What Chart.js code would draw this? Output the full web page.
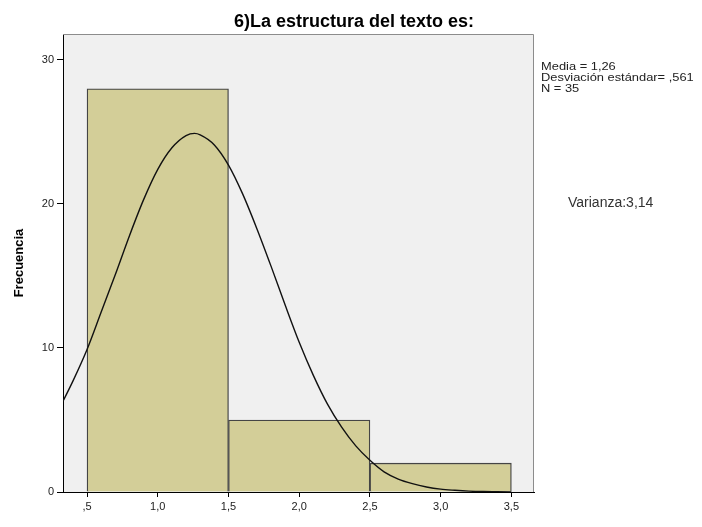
<!DOCTYPE html>
<html>
<head>
<meta charset="utf-8">
<script src="https://cdn.jsdelivr.net/npm/chart.js@4/dist/chart.umd.min.js"></script>
<style>
  html, body { margin: 0; padding: 0; background: #fff; }
  #wrap { width: 702px; height: 527px; }
</style>
</head>
<body>
<div id="wrap"><canvas id="hist"></canvas></div>
<script>
const binCenters = [1, 2, 3];
const binCounts = [28, 5, 2];
const binEdges = [0.5, 1.5, 2.5, 3.5];
const curveX = [0.33, 0.4, 0.5, 0.6, 0.7, 0.8, 0.9, 1.0, 1.1, 1.2, 1.26, 1.3, 1.4, 1.5, 1.6, 1.7, 1.8,
  1.9, 2.0, 2.1, 2.2, 2.3, 2.4, 2.5, 2.6, 2.7, 2.8, 2.9, 3.0, 3.1, 3.2, 3.3, 3.4, 3.5];
const curveY = [6.3, 7.7, 9.9, 12.5, 15.1, 17.8, 20.3, 22.4, 23.9, 24.75, 24.9, 24.8, 24.1, 22.7, 20.7,
  18.3, 15.7, 13.0, 10.4, 8.1, 6.1, 4.5, 3.2, 2.2, 1.4, 0.9, 0.58, 0.35, 0.2, 0.12, 0.06, 0.03, 0.02, 0.01];
const xTicks = [0.5, 1.0, 1.5, 2.0, 2.5, 3.0, 3.5];
const yTicks = [0, 10, 20, 30];
const statLines = ['Media = 1,26', 'Desviación estándar= ,561', 'N = 35'];
const varianceText = 'Varianza:3,14';
const titleText = '6)La estructura del texto es:';

const FONT = '"Liberation Sans", Arial, sans-serif';
const X_MIN = 0.33;
const X_MAX = 3.66;

const framePlugin = {
  id: 'frame',
  beforeDraw(chart) {
    const { ctx, chartArea: a } = chart;
    ctx.save();
    ctx.fillStyle = '#f0f0f0';
    ctx.fillRect(a.left, a.top, a.right - a.left, a.bottom - a.top);
    ctx.restore();
  },
  afterDraw(chart) {
    const { ctx, chartArea: a } = chart;
    ctx.save();
    // top / right border in grey
    ctx.strokeStyle = '#8c8c8c';
    ctx.lineWidth = 1;
    ctx.beginPath();
    ctx.moveTo(a.left, a.top + 0.5);
    ctx.lineTo(a.right - 0.5, a.top + 0.5);
    ctx.lineTo(a.right - 0.5, a.bottom);
    ctx.stroke();

    ctx.fillStyle = '#000';
    ctx.font = `bold 18px ${FONT}`;
    ctx.textAlign = 'center';
    ctx.textBaseline = 'alphabetic';
    ctx.fillText(titleText, 354, 27);

    // SPSS stats text is a bit wider than Liberation Sans, stretch it
    ctx.font = `11px ${FONT}`;
    ctx.textAlign = 'left';
    ctx.fillStyle = '#222';
    statLines.forEach((t, i) => {
      ctx.save();
      ctx.translate(541, 70 + i * 11);
      ctx.scale(1.17, 1);
      ctx.fillText(t, 0, 0);
      ctx.restore();
    });

    ctx.font = `14px ${FONT}`;
    ctx.fillStyle = '#333';
    ctx.textBaseline = 'middle';
    ctx.fillText(varianceText, 568, 203);
    ctx.restore();
  },
};

new Chart(document.getElementById('hist'), {
  type: 'bar',
  data: {
    datasets: [
      {
        type: 'line',
        data: curveX.map((x, i) => ({ x, y: curveY[i] })),
        borderColor: '#111',
        borderWidth: 1.4,
        pointRadius: 0,
        cubicInterpolationMode: 'monotone',
        fill: false,
        order: 0,
      },
      {
        type: 'bar',
        xAxisID: 'xb',
        data: binCenters.map((x, i) => ({ x, y: binCounts[i] })),
        backgroundColor: 'rgb(211, 206, 152)',
        borderColor: '#454545',
        borderWidth: 1.3,
        barPercentage: 1,
        categoryPercentage: 1,
        order: 1,
      },
    ],
  },
  plugins: [framePlugin],
  options: {
    responsive: true,
    maintainAspectRatio: false,
    animation: false,
    layout: {
      padding: { top: 34, right: 168, bottom: 0, left: 0 },
    },
    plugins: {
      legend: { display: false },
      tooltip: { enabled: false },
      title: { display: false },
    },
    scales: {
      // hidden axis for the bins, ticks on the bin edges so bars fill the whole bin
      xb: {
        type: 'linear',
        display: false,
        offset: false,
        min: X_MIN,
        max: X_MAX,
        afterBuildTicks(scale) {
          scale.ticks = binEdges.map((v) => ({ value: v }));
        },
      },
      x: {
        type: 'linear',
        offset: false,
        min: X_MIN,
        max: X_MAX,
        afterBuildTicks(scale) {
          scale.ticks = xTicks.map((v) => ({ value: v }));
        },
        afterFit(scale) {
          scale.height = 35;
        },
        grid: {
          offset: false,
          drawOnChartArea: false,
          drawTicks: true,
          tickLength: 5,
          tickColor: '#000',
        },
        border: { display: true, color: '#000', width: 1 },
        ticks: {
          color: '#222',
          padding: 3,
          maxRotation: 0,
          font: { family: FONT, size: 11 },
          callback(val) {
            const s = val.toFixed(1).replace('.', ',');
            return s.startsWith('0') ? s.slice(1) : s;
          },
        },
      },
      y: {
        min: 0,
        max: 31.8,
        afterBuildTicks(scale) {
          scale.ticks = yTicks.map((v) => ({ value: v }));
        },
        afterFit(scale) {
          scale.width = 63;
        },
        grid: {
          drawOnChartArea: false,
          drawTicks: true,
          tickLength: 6,
          tickColor: '#000',
        },
        border: { display: true, color: '#000', width: 1 },
        ticks: {
          color: '#222',
          padding: 3,
          font: { family: FONT, size: 11 },
        },
        title: {
          display: true,
          text: 'Frecuencia',
          color: '#000',
          padding: { top: 12, bottom: 0 },
          font: { family: FONT, size: 13, weight: 'bold' },
        },
      },
    },
  },
});
</script>
</body>
</html>
